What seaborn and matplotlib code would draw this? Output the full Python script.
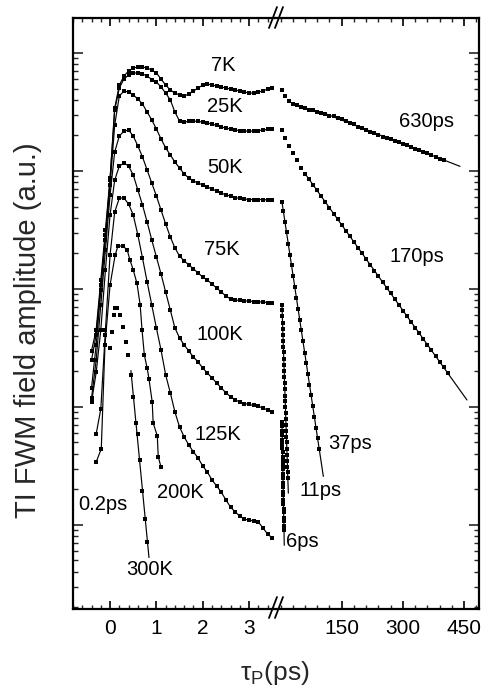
import numpy as np
import matplotlib
matplotlib.use("Agg")
import matplotlib.pyplot as plt
from matplotlib.lines import Line2D
from matplotlib.ticker import FixedLocator, MultipleLocator, LogLocator, NullFormatter
import seaborn as sns

sns.set_theme(style="ticks")
plt.rcParams['font.family'] = ['Liberation Sans', 'DejaVu Sans']
plt.rcParams['mathtext.fontset'] = 'custom'
plt.rcParams['mathtext.rm'] = 'Liberation Sans'
plt.rcParams['mathtext.it'] = 'Liberation Sans:italic'

# ---------------- data (short delays, ps) ----------------
tau_short = [-0.4, -0.3, -0.2, -0.1, 0.0, 0.1, 0.2, 0.3, 0.4, 0.5,
             0.6, 0.7, 0.8, 0.9, 1.0, 1.1, 1.2, 1.3, 1.4, 1.5,
             1.6, 1.7, 1.8, 1.9, 2.0, 2.1, 2.2, 2.3, 2.4, 2.5,
             2.6, 2.7, 2.8, 2.9, 3.0, 3.1, 3.2, 3.3, 3.4, 3.5]
amp_7K = [0.0030, 0.0045, 0.0119, 0.0316, 0.0872, 0.342, 0.535, 0.638, 0.704, 0.746,
          0.761, 0.761, 0.746, 0.718, 0.677, 0.602, 0.535, 0.486, 0.458, 0.441,
          0.432, 0.449, 0.476, 0.505, 0.535, 0.546, 0.535, 0.525, 0.515, 0.505,
          0.495, 0.486, 0.476, 0.467, 0.458, 0.458, 0.467, 0.476, 0.495, 0.505]
amp_25K = [0.0025, 0.0041, 0.0108, 0.0287, 0.0839, 0.329, 0.505, 0.602, 0.651, 0.677,
           0.677, 0.664, 0.638, 0.596, 0.568, 0.515, 0.458, 0.400, 0.316, 0.265,
           0.260, 0.263, 0.265, 0.263, 0.260, 0.255, 0.250, 0.243, 0.236, 0.231,
           0.227, 0.2225, 0.220, 0.218, 0.218, 0.218, 0.220, 0.2225, 0.225, 0.227]
amp_50K = [0.00145, 0.00335, 0.00981, 0.0260, 0.0761, 0.245, 0.432, 0.476, 0.467, 0.441,
           0.408, 0.370, 0.316, 0.271, 0.227, 0.187, 0.157, 0.137, 0.119, 0.106,
           0.0943, 0.0872, 0.0823, 0.0791, 0.0761, 0.0732, 0.0704, 0.0677, 0.0651, 0.0626,
           0.0614, 0.0596, 0.0585, 0.0579, 0.0573, 0.0573, 0.0573, 0.0573, 0.0568, 0.0568]
amp_75K = [0.00119, 0.00250, 0.00732, 0.0214, 0.0626, 0.145, 0.198, 0.218, 0.2225, 0.198,
           0.163, 0.1315, 0.102, 0.0791, 0.0614, 0.0467, 0.0356, 0.0276, 0.0223, 0.0190,
           0.0173, 0.0160, 0.0148, 0.0137, 0.0126, 0.0119, 0.0110, 0.0102, 0.00943, 0.00872,
           0.00823, 0.00807, 0.00800, 0.00791, 0.00791, 0.00783, 0.00776, 0.00776, 0.00768, 0.00761]
amp_100K = [0.00110, 0.00196, 0.00449, 0.0145, 0.0424, 0.0839, 0.110, 0.117, 0.110, 0.0925,
            0.0690, 0.0515, 0.0370, 0.0260, 0.0187, 0.0134, 0.00943, 0.00664, 0.00467, 0.00385,
            0.00335, 0.00298, 0.00265, 0.00241, 0.00214, 0.00194, 0.00176, 0.00160, 0.00145, 0.00132,
            0.00122, 0.00115, 0.00110, 0.00107, 0.00105, 0.00103, 0.00101, 0.000981, 0.000943, 0.000907]
tau_125K = [-0.3, -0.2, -0.1, 0.0, 0.1, 0.2, 0.3, 0.4, 0.5,
            0.6, 0.7, 0.8, 0.9, 1.0, 1.1, 1.2, 1.3, 1.4, 1.5,
            1.6, 1.7, 1.8, 1.9, 2.0, 2.1, 2.2, 2.3, 2.4, 2.5,
            2.6, 2.7, 2.8, 2.9, 3.0, 3.1, 3.2, 3.3, 3.4, 3.5]
amp_125K = [0.000590, 0.000962, 0.00449, 0.0194, 0.0449, 0.0590, 0.0590, 0.0525, 0.0424,
            0.0287, 0.0183, 0.0115, 0.00732, 0.00467, 0.00304, 0.00187, 0.00132, 0.000907, 0.000677,
            0.000557, 0.000476, 0.000416, 0.000370, 0.000316, 0.000281, 0.000241, 0.000214, 0.000190, 0.000163,
            0.000142, 0.000129, 0.000119, 0.000112, 0.000110, 0.000108, 0.000106, 0.0000943, 0.0000839, 0.0000776]
tau_200K = [-0.30, -0.19, -0.11, 0.0, 0.11, 0.17, 0.28, 0.37, 0.43, 0.50,
            0.58, 0.65, 0.69, 0.74, 0.80, 0.84, 0.91, 0.93, 1.02, 1.04, 1.10]
amp_200K = [0.000342, 0.000441, 0.00335, 0.0108, 0.0194, 0.0231, 0.0231, 0.0214, 0.0176, 0.0145,
            0.0112, 0.00732, 0.00449, 0.00276, 0.00214, 0.00173, 0.00110, 0.000732, 0.000568, 0.000377, 0.000310]
tau_300K = [-0.11, 0.0, 0.04, 0.09, 0.11, 0.15, 0.22, 0.28, 0.35, 0.39,
            0.45, 0.50, 0.56, 0.60, 0.65, 0.69, 0.76, 0.80]
amp_300K = [0.00408, 0.00316, 0.00432, 0.00602, 0.00690, 0.00690, 0.00602, 0.00476, 0.00356, 0.00276,
            0.00187, 0.00122, 0.000732, 0.000590, 0.000356, 0.000194, 0.000112, 0.0000718]

# ---------------- data (long delays, ps) ----------------
tau_long_7K = [3.5, 10, 20, 30, 40, 50, 60, 70, 80, 90, 100, 110, 120, 130, 140, 150, 160, 170, 180, 190,
               200, 210, 220, 230, 240, 250, 260, 270, 280, 290, 300, 310, 320, 330, 340, 350, 360, 370,
               380, 390, 400]
amp_long_7K = [0.486, 0.432, 0.392, 0.370, 0.362, 0.349, 0.339, 0.332, 0.326, 0.319, 0.310, 0.304, 0.295,
               0.290, 0.284, 0.276, 0.265, 0.255, 0.248, 0.238, 0.231, 0.2225, 0.214, 0.210, 0.202, 0.196,
               0.190, 0.185, 0.1795, 0.1744, 0.1694, 0.166, 0.1598, 0.155, 0.1507, 0.1449, 0.1407, 0.1367,
               0.1315, 0.1276, 0.124]
tau_long_25K = [3.5, 10, 20, 30, 40, 50, 60, 70, 80, 90, 100, 110, 120, 130, 140, 150, 160, 170, 180, 190,
                200, 210, 220, 230, 240, 250, 260, 270, 280, 290, 300, 310, 320, 330, 340, 350, 360, 370,
                380, 390, 400, 410]
amp_long_25K = [0.2225, 0.190, 0.163, 0.142, 0.124, 0.106, 0.0943, 0.0855, 0.0761, 0.0684, 0.0614, 0.0546,
                0.0486, 0.0436, 0.0392, 0.0349, 0.0310, 0.0281, 0.0250, 0.0223, 0.0200, 0.0180, 0.0160,
                0.0142, 0.0129, 0.0115, 0.0102, 0.00925, 0.00823, 0.00732, 0.00651, 0.00590, 0.00525,
                0.00467, 0.00424, 0.00377, 0.00335, 0.00304, 0.00271, 0.00241, 0.00218, 0.00194]
tau_long_50K = [3.5, 7, 11, 15, 19, 23, 27, 31, 35, 39, 43, 47, 51, 55, 59, 63, 67, 71, 75, 79, 83, 87, 91, 95]
amp_long_50K = [0.0546, 0.0455, 0.0370, 0.0302, 0.0241, 0.0194, 0.0159, 0.0129, 0.0104, 0.00845, 0.00677,
                0.00550, 0.00449, 0.00362, 0.00289, 0.00236, 0.00190, 0.00155, 0.00126, 0.00102, 0.000815,
                0.000664, 0.000546, 0.000441]
tau_long_75K = [3.5, 4.0, 4.5, 5.0, 5.5, 6.0, 6.5, 7.0, 7.5, 8.0, 8.5, 9.0, 9.5, 10.0, 10.5,
                11.0, 11.5, 12.0, 12.5, 13.0, 13.5, 14.0, 14.5, 15.0, 15.5, 16.0, 16.5, 17.0, 17.5, 18.0]
amp_long_75K = [0.00732, 0.00660, 0.00585, 0.00512, 0.00455, 0.00410, 0.00360, 0.00320, 0.00290, 0.00254,
                0.00226, 0.00203, 0.00178, 0.00160, 0.00143, 0.00125, 0.00112, 0.00100, 0.00089, 0.00079,
                0.00071, 0.00062, 0.00056, 0.00050, 0.00044, 0.00039, 0.00035, 0.00031, 0.00028, 0.00025]
tau_long_100K = [3.5, 3.7, 3.9, 4.1, 4.3, 4.5, 4.7, 4.9, 5.1, 5.3, 5.5, 5.7, 5.9, 6.1, 6.3, 6.5,
                 6.7, 6.9, 7.1, 7.3, 7.5, 7.7, 7.9, 8.1, 8.3, 8.5]
amp_long_100K = [0.000746, 0.000690, 0.000628, 0.000580, 0.000530, 0.000490, 0.000448, 0.000415, 0.000378,
                 0.000350, 0.000320, 0.000296, 0.000270, 0.000250, 0.000228, 0.000211, 0.000192, 0.000179,
                 0.000162, 0.000151, 0.000137, 0.000128, 0.000115, 0.000108, 0.0000980, 0.0000905]

# fit-line ranges (ps) for long-delay decays: (fit from, draw to)
fit_from = [100, 60, 3.5, 3.5, 3.5]
fit_to = [440, 457, 105, 19.2, 9.2]

short_curves = [(tau_short, amp_7K), (tau_short, amp_25K), (tau_short, amp_50K),
                (tau_short, amp_75K), (tau_short, amp_100K), (tau_125K, amp_125K),
                (tau_200K, amp_200K)]
long_curves = [(tau_long_7K, amp_long_7K), (tau_long_25K, amp_long_25K), (tau_long_50K, amp_long_50K),
               (tau_long_75K, amp_long_75K), (tau_long_100K, amp_long_100K)]

# ---------------- figure ----------------
W, H = 486, 696
fig = plt.figure(figsize=(W / 100, H / 100), dpi=100)
axL = fig.add_axes([73 / W, 87 / H, 202 / W, 591 / H])
axR = fig.add_axes([275 / W, 87 / H, 204 / W, 591 / H])

MS = 3.4
LW = 0.85
for ax in (axL, axR):
    ax.set_yscale('log')
    ax.set_ylim(1.94e-5, 1.98)

for x, y in short_curves:
    sns.lineplot(x=x, y=y, ax=axL, color='black', marker='s', markersize=MS,
                 markeredgewidth=0, linewidth=LW, estimator=None, sort=False, legend=False)

# 300 K: points only at the peak, line through the tail
sns.scatterplot(x=tau_300K, y=amp_300K, ax=axL, color='black', marker='s', s=MS ** 2,
                linewidth=0, legend=False)
tail = [i for i, t in enumerate(tau_300K) if t >= 0.45]
px = np.array(tau_300K)[tail]
py = np.log10(np.array(amp_300K)[tail])
c = np.polyfit(px, py, 1)
xs = np.array([px[0], 0.84])
sns.lineplot(x=xs, y=10 ** np.polyval(c, xs), ax=axL, color='black', linewidth=LW,
             estimator=None, sort=False, legend=False)

for (x, y), f0, f1 in zip(long_curves, fit_from, fit_to):
    sns.lineplot(x=x, y=y, ax=axR, color='black', marker='s', markersize=MS,
                 markeredgewidth=0, linewidth=0, estimator=None, sort=False, legend=False)
    xa = np.array(x)
    ya = np.log10(np.array(y))
    m = xa >= f0
    c = np.polyfit(xa[m], ya[m], 1)
    xs = np.array([xa[m][0], f1])
    sns.lineplot(x=xs, y=10 ** np.polyval(c, xs), ax=axR, color='black', linewidth=LW,
                 estimator=None, sort=False, legend=False)

axL.set_xlim(-0.80, 3.56)
axR.set_xlim(-13.5, 486.5)

FS_TICK = 15
FS_TXT = 14.5
axL.xaxis.set_major_locator(FixedLocator([0, 1, 2, 3]))
axL.xaxis.set_minor_locator(MultipleLocator(0.2))
axR.xaxis.set_major_locator(FixedLocator([150, 300, 450]))
axR.xaxis.set_minor_locator(MultipleLocator(30))
for ax in (axL, axR):
    ax.yaxis.set_major_locator(LogLocator(base=10, numticks=20))
    ax.yaxis.set_minor_locator(LogLocator(base=10, subs=np.arange(2, 10), numticks=20))
    ax.yaxis.set_major_formatter(NullFormatter())
    ax.yaxis.set_minor_formatter(NullFormatter())
    ax.set_xlabel('')
    ax.set_ylabel('')
    for s in ax.spines.values():
        s.set_linewidth(1.6)
        s.set_color('black')
    ax.tick_params(axis='x', which='major', direction='in', length=6, width=1.2,
                   top=True, bottom=True, labelsize=FS_TICK, pad=7, colors='black')
    ax.tick_params(axis='x', which='minor', direction='in', length=3, width=1.0,
                   top=True, bottom=True)
axL.spines['right'].set_visible(False)
axR.spines['left'].set_visible(False)
axL.tick_params(axis='y', which='major', direction='in', length=7.5, width=1.2,
                left=True, right=False)
axL.tick_params(axis='y', which='minor', direction='in', length=3.5, width=1.0,
                left=True, right=False)
axR.tick_params(axis='y', which='major', direction='in', length=7.5, width=1.2,
                left=False, right=True)
axR.tick_params(axis='y', which='minor', direction='in', length=3.5, width=1.0,
                left=False, right=True)

# curve labels
labels_L = [('7K', 2.44, 0.79), ('25K', 2.48, 0.349), ('50K', 2.48, 0.108),
            ('75K', 2.42, 0.0214), ('100K', 2.38, 0.00408), ('125K', 2.33, 0.00059),
            ('200K', 1.51, 0.000187), ('0.2ps', -0.15, 0.000148), ('300K', 0.86, 0.0000416)]
labels_R = [('630ps', 359, 0.265), ('170ps', 334, 0.0187), ('37ps', 170, 0.000495),
            ('11ps', 97, 0.000196), ('6ps', 53, 0.0000718)]
for t, x, y in labels_L:
    axL.text(x, y, t, fontsize=FS_TXT, ha='center', va='center', color='black')
for t, x, y in labels_R:
    axR.text(x, y, t, fontsize=FS_TXT, ha='center', va='center', color='black')

fig.text(28 / W, 1 - 330 / H, 'TI FWM field amplitude (a.u.)', rotation=90,
         ha='center', va='center', fontsize=21)
fig.text(275 / W, 1 - 673 / H, r'$\mathrm{\tau_P}$(ps)', ha='center', va='center', fontsize=19)

# axis-break marks
for y0, y1 in ((28, 7), (618, 597)):
    for dx in (0, 6):
        fig.add_artist(Line2D([(269 + dx) / W, (277 + dx) / W], [1 - y0 / H, 1 - y1 / H],
                              color='black', linewidth=1.3, transform=fig.transFigure))

fig.savefig('out.png', dpi=100)
